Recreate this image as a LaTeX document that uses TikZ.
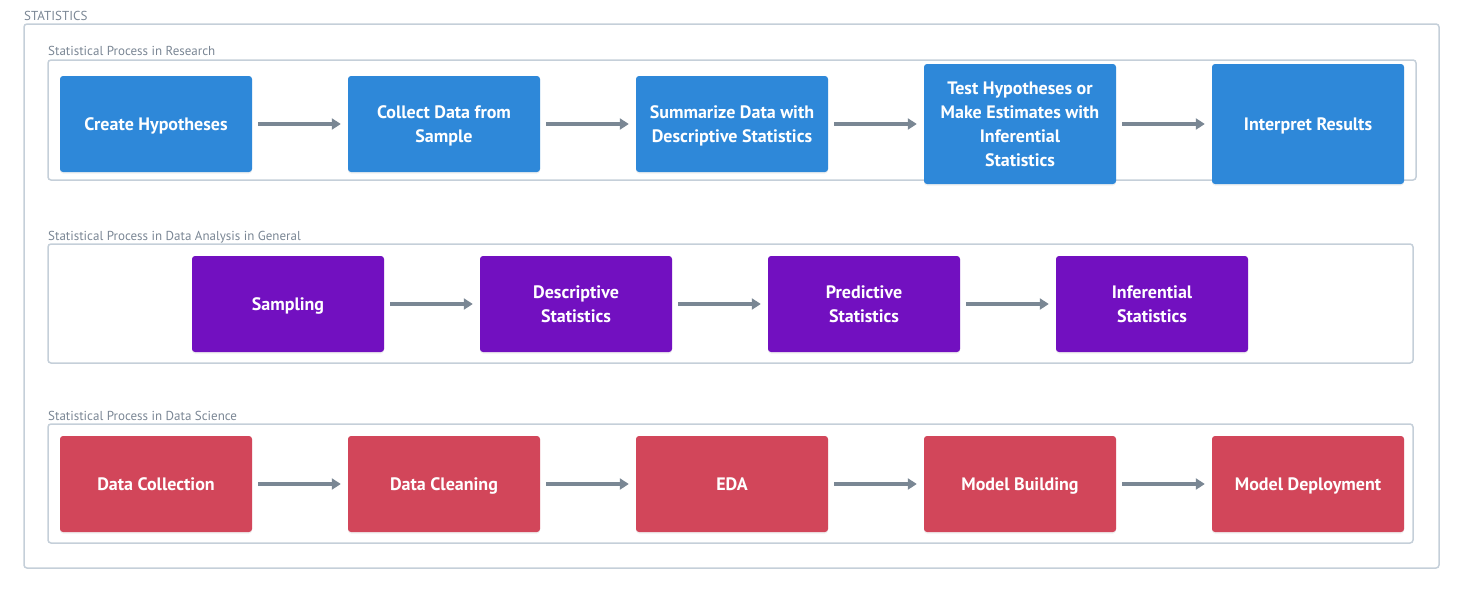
\documentclass[tikz,border=0pt]{standalone}
\usepackage{fontspec}
\setmainfont{PT Sans}
\usetikzlibrary{arrows.meta,shadows}
\definecolor{cblue}{HTML}{2E88D9}
\definecolor{cpurple}{HTML}{7210C0}
\definecolor{cred}{HTML}{D2465A}
\definecolor{carrow}{HTML}{7A8794}
\definecolor{cframe}{HTML}{C5CFD9}
\definecolor{clabel}{HTML}{7A8694}
\tikzset{
  proc/.style={rounded corners=3pt, minimum width=192pt, minimum height=96pt, inner sep=0pt,
    text=white, align=center, font=\fontsize{18}{24}\selectfont\bfseries, text depth=0pt,
    drop shadow={opacity=0.12, shadow xshift=0pt, shadow yshift=-1.5pt}},
  tall/.style={minimum height=120pt},
  pblue/.style={proc, fill=cblue},
  ppurple/.style={proc, fill=cpurple},
  pred/.style={proc, fill=cred},
  frame/.style={draw=cframe, line width=1.5pt, rounded corners=3pt},
  grouplabel/.style={anchor=base west, inner sep=0pt, text=clabel, font=\fontsize{13}{15}\selectfont},
  flow/.style={draw=carrow, line width=3.5pt, -{Triangle[length=9pt,width=11pt]}, shorten <=6pt, shorten >=7pt},
}
\begin{document}
\begin{tikzpicture}[x=1pt,y=-1pt]
\useasboundingbox (0,0) rectangle (1463,592);
% outer
\node[grouplabel] (lstat) at (24,20) {STATISTICS};
\draw[frame] (24,24) rectangle (1439,568);
% group 1
\node[grouplabel] (l1) at (48,55) {Statistical Process in Research};
\draw[frame] (48,60) rectangle (1416,180);
% group 2
\node[grouplabel] (l2) at (48,240) {Statistical Process in Data Analysis in General};
\draw[frame] (48,244) rectangle (1413,363);
% group 3
\node[grouplabel] (l3) at (48,420) {Statistical Process in Data Science};
\draw[frame] (48,424) rectangle (1413,543);
% row 1
\node[pblue] (a1) at (156,124) {Create Hypotheses};
\node[pblue] (a2) at (444,124) {Collect Data from\\Sample};
\node[pblue] (a3) at (732,124) {Summarize Data with\\Descriptive Statistics};
\node[pblue,tall] (a4) at (1020,124) {Test Hypotheses or\\Make Estimates with\\Inferential\\Statistics};
\node[pblue,tall] (a5) at (1308,124) {Interpret Results};
% row 2
\node[ppurple] (b1) at (288,304) {Sampling};
\node[ppurple] (b2) at (576,304) {Descriptive\\Statistics};
\node[ppurple] (b3) at (864,304) {Predictive\\Statistics};
\node[ppurple] (b4) at (1152,304) {Inferential\\Statistics};
% row 3
\node[pred] (c1) at (156,484) {Data Collection};
\node[pred] (c2) at (444,484) {Data Cleaning};
\node[pred] (c3) at (732,484) {EDA};
\node[pred] (c4) at (1020,484) {Model Building};
\node[pred] (c5) at (1308,484) {Model Deployment};
% arrows
\draw[flow] (a1) -- (a2);
\draw[flow] (a2) -- (a3);
\draw[flow] (a3) -- (a4);
\draw[flow] (a4) -- (a5);
\draw[flow] (b1) -- (b2);
\draw[flow] (b2) -- (b3);
\draw[flow] (b3) -- (b4);
\draw[flow] (c1) -- (c2);
\draw[flow] (c2) -- (c3);
\draw[flow] (c3) -- (c4);
\draw[flow] (c4) -- (c5);
\end{tikzpicture}
\end{document}
